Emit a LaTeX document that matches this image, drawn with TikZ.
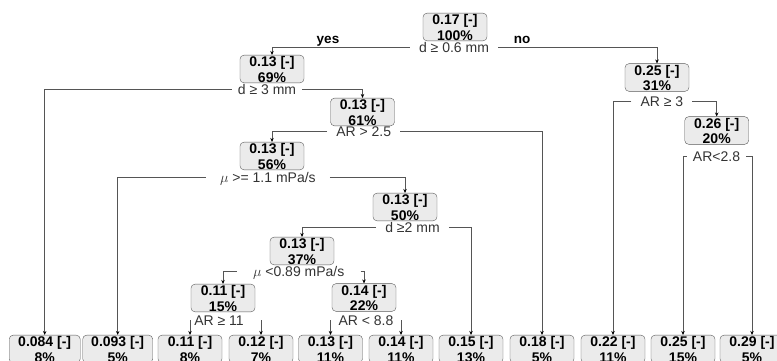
\documentclass[tikz,border=0pt]{standalone}
\usepackage{fontspec}
\setmainfont{Liberation Sans}
\usetikzlibrary{arrows.meta}
\definecolor{boxfill}{HTML}{EBEBEB}
\definecolor{boxline}{HTML}{5A5A5A}
\definecolor{treeline}{HTML}{555555}
\definecolor{labtext}{HTML}{333333}
\newcommand{\nodetext}[2]{\rule{0pt}{11.5pt}#1\\#2\rule[-0.7pt]{0pt}{0.7pt}}

\begin{document}
\begin{tikzpicture}[x=1pt,y=-1pt,
  tnode/.style={draw=boxline,fill=boxfill,rounded corners=4pt,minimum width=64pt,inner xsep=2pt,inner ysep=0pt,align=center,font=\fontsize{14}{15.5}\selectfont\bfseries},
  splitlab/.style={inner xsep=9pt,inner ysep=0pt,text height=10pt,text depth=0pt,text=labtext,font=\fontsize{14}{15.5}\selectfont},
  edgeline/.style={draw=treeline,line width=0.9pt,-{Stealth[black,length=4pt,width=3.5pt]}},
  yesno/.style={anchor=base,font=\fontsize{13.5}{15.5}\selectfont\bfseries}]
\useasboundingbox (0,0) rectangle (777,361);
\clip (0,0) rectangle (777,361);

% inner nodes and splits
\node[tnode] (n1) at (455,27) {\nodetext{0.17 [-]}{100\%}};
\node[splitlab] (s1) at (454,47.3) {d ≥ 0.6 mm};
\node[tnode] (n2) at (272,69) {\nodetext{0.13 [-]}{69\%}};
\node[splitlab,inner xsep=6pt] (s2) at (267,89.5) {d ≥ 3 mm};
\node[tnode] (n3) at (362.5,112) {\nodetext{0.13 [-]}{61\%}};
\node[splitlab] (s3) at (363.7,131.7) {AR > 2.5};
\node[tnode] (n4) at (272,156) {\nodetext{0.13 [-]}{56\%}};
\node[splitlab,inner xsep=14pt] (s4) at (267.9,177.3) {$\mu$ >= 1.1 mPa/s};
\node[tnode] (n5) at (405,207) {\nodetext{0.13 [-]}{50\%}};
\node[splitlab] (s5) at (412.5,227.3) {d ≥2 mm};
\node[tnode] (n6) at (302,251) {\nodetext{0.13 [-]}{37\%}};
\node[splitlab,inner xsep=16pt] (s6) at (298.7,271.7) {$\mu$ <0.89 mPa/s};
\node[tnode] (n7) at (223,298) {\nodetext{0.11 [-]}{15\%}};
\node[splitlab] (s7) at (219,320) {AR ≥ 11};
\node[tnode] (n8) at (364,297.5) {\nodetext{0.14 [-]}{22\%}};
\node[splitlab] (s8) at (366,320) {AR < 8.8};
\node[tnode] (r1) at (657,77.5) {\nodetext{0.25 [-]}{31\%}};
\node[splitlab] (t1) at (661.9,101.7) {AR ≥ 3};
\node[tnode] (r2) at (716.7,130.5) {\nodetext{0.26 [-]}{20\%}};
\node[splitlab,inner xsep=6pt] (t2) at (716.5,156.7) {AR<2.8};

% leaves
\node[tnode,minimum width=71pt] (l1) at (44.7,349) {\nodetext{0.084 [-]}{8\%}};
\node[tnode,minimum width=70pt] (l2) at (117.7,349) {\nodetext{0.093 [-]}{5\%}};
\node[tnode] (l3) at (190,349) {\nodetext{0.11 [-]}{8\%}};
\node[tnode] (l4) at (261,349) {\nodetext{0.12 [-]}{7\%}};
\node[tnode] (l5) at (330.5,349) {\nodetext{0.13 [-]}{11\%}};
\node[tnode] (l6) at (401,349) {\nodetext{0.14 [-]}{11\%}};
\node[tnode] (l7) at (471,349) {\nodetext{0.15 [-]}{13\%}};
\node[tnode] (l8) at (542,349) {\nodetext{0.18 [-]}{5\%}};
\node[tnode] (l9) at (613,349) {\nodetext{0.22 [-]}{11\%}};
\node[tnode] (l10) at (683,349) {\nodetext{0.25 [-]}{15\%}};
\node[tnode] (l11) at (752,349) {\nodetext{0.29 [-]}{5\%}};

\node[yesno] (yes) at (328,44) {yes};
\node[yesno] (no) at (522,44) {no};

% branches
\draw[edgeline] (s1.west) -| (n2.north);
\draw[edgeline] (s1.east) -| (r1.north);
\draw[edgeline] (s2.west) -| (l1.north);
\draw[edgeline] (s2.east) -| (n3.north);
\draw[edgeline] (s3.west) -| (n4.north);
\draw[edgeline] (s3.east) -| (l8.north);
\draw[edgeline] (s4.west) -| (l2.north);
\draw[edgeline] (s4.east) -| (n5.north);
\draw[edgeline] (s5.west) -| (n6.north);
\draw[edgeline] (s5.east) -| (l7.north);
\draw[edgeline] (s6.west) -| (n7.north);
\draw[edgeline] (s6.east) -| (n8.north);
\draw[edgeline] (l3.north |- s7.center) -- (l3.north);
\draw[edgeline] (l4.north |- s7.center) -- (l4.north);
\draw[edgeline] (l5.north |- s8.center) -- (l5.north);
\draw[edgeline] (l6.north |- s8.center) -- (l6.north);
\draw[edgeline] (t1.west) -| (l9.north);
\draw[edgeline] (t1.east) -| (r2.north);
\draw[edgeline] (t2.west) -| (l10.north);
\draw[edgeline] (t2.east) -| (l11.north);
\end{tikzpicture}
\end{document}
